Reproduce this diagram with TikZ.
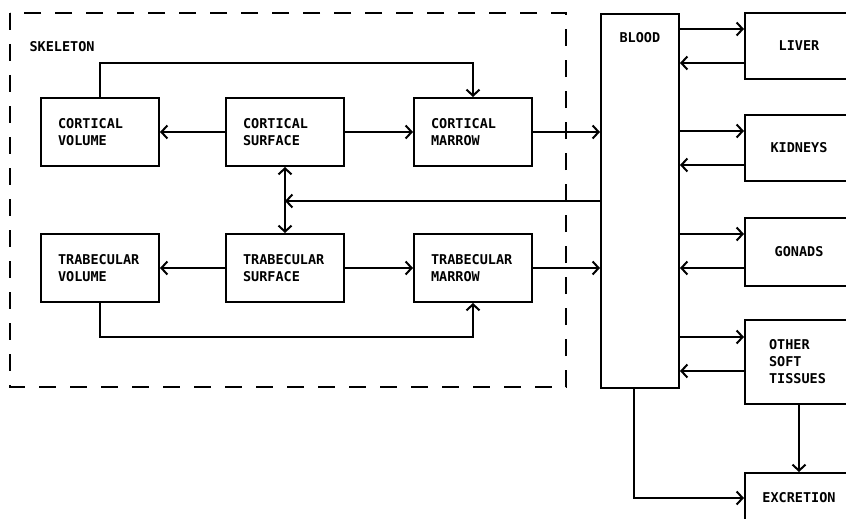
\documentclass[tikz,border=0pt]{standalone}
\usepackage{fontspec}
\newfontfamily\boxfont{DejaVu Sans Mono}
\usepackage{tikz}
\usetikzlibrary{arrows.meta,positioning}

\begin{document}
\begin{tikzpicture}[
  x=1pt, y=-1pt,
  every node/.style={font=\boxfont\bfseries\fontsize{13.5}{17}\selectfont},
  sbox/.style ={draw, line width=2pt, minimum height=68pt, inner xsep=17pt, inner ysep=0pt,
                text width=84pt, align=left},
  obox/.style ={draw, line width=2pt, minimum width=108pt, inner sep=0pt, align=center},
  ar/.style   ={-{Straight Barb[length=6pt,width=13pt]}, line width=2pt},
  dar/.style  ={{Straight Barb[length=6pt,width=13pt]}-{Straight Barb[length=6pt,width=13pt]}, line width=2pt},
  skel/.style ={line width=2pt, dash pattern=on 17pt off 14pt},
]
\useasboundingbox (0,0) rectangle (846,519);

%% ─── Skeleton compartment (dashed) ──────────────────────────────────────────
\draw[skel] (10,13) rectangle (566,387);
\node[anchor=west] (skl) at (26,47) {SKELETON};

% cortical row
\node[sbox] (cvol) at (100,132) {CORTICAL\\VOLUME};
\node[sbox] (csur) at (285,132) {CORTICAL\\SURFACE};
\node[sbox] (cmar) at (473,132) {CORTICAL\\MARROW};

% trabecular row
\node[sbox] (tvol) at (100,268) {TRABECULAR\\VOLUME};
\node[sbox] (tsur) at (285,268) {TRABECULAR\\SURFACE};
\node[sbox] (tmar) at (473,268) {TRABECULAR\\MARROW};

%% ─── Blood ───────────────────────────────────────────────────────────────────
\node[draw, line width=2pt, minimum width=78pt, minimum height=374pt, anchor=north west]
  (blood) at (600,13) {};
\node[anchor=west] (bl) at (616,38) {BLOOD};

%% ─── Organs (cut by the right border) ────────────────────────────────────────
\node[obox, minimum height=66pt] (liver) at (799,46) {LIVER};
\node[obox, minimum height=66pt] (kid)   at (799,148) {KIDNEYS};
\node[obox, minimum height=68pt] (gon)   at (799,252) {GONADS};
\node[obox, minimum height=84pt, text width=60pt, inner xsep=24pt, align=left]
  (soft) at (799,362) {OTHER\\SOFT\\TISSUES};
\node[obox, minimum height=50pt] (excr)  at (799,498) {EXCRETION};

%% ─── Skeleton connectors ─────────────────────────────────────────────────────
\draw[ar] (csur) -- (cvol);
\draw[ar] (csur) -- (cmar);
\draw[ar] (tsur) -- (tvol);
\draw[ar] (tsur) -- (tmar);
\draw[dar] (csur) -- (tsur);

\draw[ar] (cvol.north) -- ++(0,-34) -| (cmar.north);
\draw[ar] (tvol.south) -- ++(0,34) -| (tmar.south);

% marrow -> blood
\draw[ar] (cmar) -- (cmar -| blood.west);
\draw[ar] (tmar) -- (tmar -| blood.west);

% blood -> bone surfaces
\path (csur.south) ++(0,34) coordinate (sk);
\draw[ar] (sk -| blood.west) -- (sk);

%% ─── Blood <-> organs ────────────────────────────────────────────────────────
\foreach \o/\a/\b in {liver/17/-17, kid/17/-17, gon/18/-16, soft/25/-9} {
  \draw[ar] ([yshift=\a pt]\o.west -| blood.east) -- ([yshift=\a pt]\o.west);
  \draw[ar] ([yshift=\b pt]\o.west) -- ([yshift=\b pt]\o.west -| blood.east);
}

%% ─── Excretion ───────────────────────────────────────────────────────────────
\draw[ar] ([xshift=-6pt]blood.south) |- (excr.west);
\draw[ar] (soft.south) -- (soft.south |- excr.north);

\end{tikzpicture}
\end{document}
